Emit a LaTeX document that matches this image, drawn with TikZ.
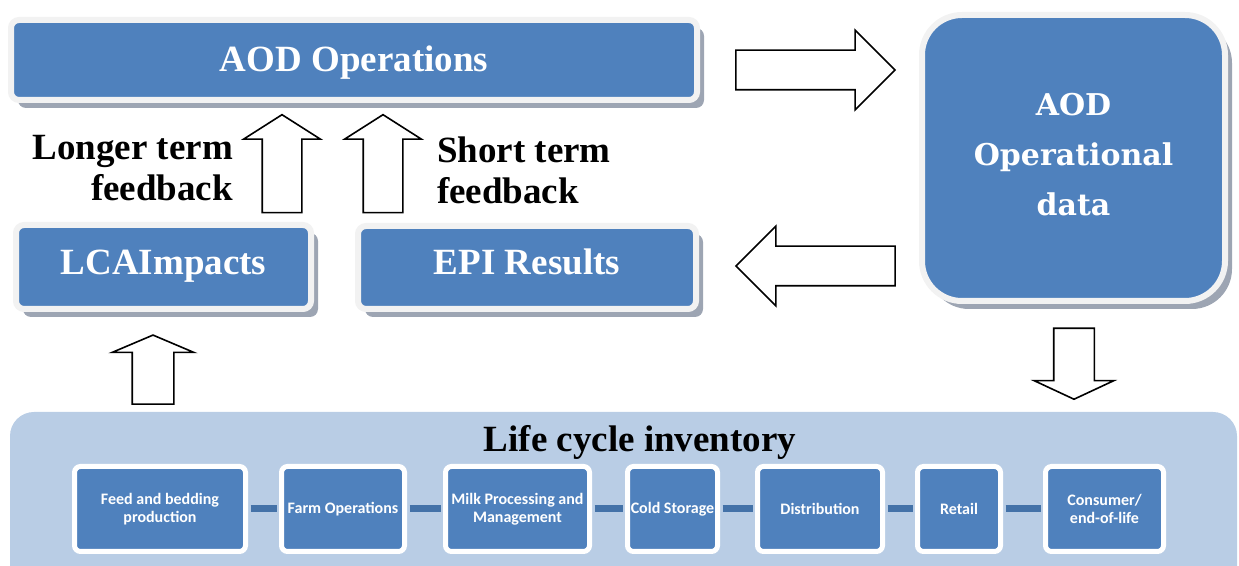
\documentclass[tikz,border=0pt]{standalone}
\usepackage{fontspec}
\setmainfont{Liberation Serif}
\newfontfamily\datafont{DejaVu Serif}
\newfontfamily\stagefont{Carlito}
\usepackage{tikz}
\usetikzlibrary{shapes.arrows,shadows,positioning}
\definecolor{boxblue}{HTML}{4F81BD}
\definecolor{framegray}{HTML}{F2F2F2}
\definecolor{panelblue}{HTML}{B9CDE5}
\definecolor{linkblue}{HTML}{4472A8}
\definecolor{shadowgray}{HTML}{9DA5B3}

\begin{document}
\begin{tikzpicture}[x=0.5pt, y=-0.5pt,
  bigbox/.style={draw=framegray, line width=3pt, fill=boxblue, rounded corners=4pt,
    text=white, font=\fontsize{18.5}{22}\selectfont\bfseries, align=center,
    text height=12.5pt, text depth=0.5pt,
    drop shadow={shadow xshift=3.5pt, shadow yshift=-4pt, fill=shadowgray, opacity=1}},
  stage/.style={draw=white, line width=2.5pt, fill=boxblue, rounded corners=3pt,
    text=white, font=\stagefont\fontsize{8}{9}\selectfont\bfseries,
    minimum height=42.5pt, inner sep=1pt, align=center},
  blockarr/.style={single arrow, draw, fill=white, thick, inner sep=9.5pt,
    single arrow head extend=10pt},
  link/.style={linkblue, line width=3.5pt, shorten <=1.25pt, shorten >=1.25pt},
  lbl/.style={font=\fontsize{18.5}{20.5}\selectfont\bfseries}
]
\useasboundingbox (0,0) rectangle (1239,566);
\clip (0,0) rectangle (1239,566);

% Top boxes
\node[bigbox, minimum width=343pt, minimum height=40pt] (ops) at (354,60) {AOD Operations};
\node[bigbox, minimum width=151.5pt, minimum height=143pt, rounded corners=20pt,
      text height=, text depth=,
      font=\datafont\fontsize{15}{25}\selectfont\bfseries] (data) at (1073.5,158)
      {AOD\\Operational\\data\\[-21pt]};
\node[bigbox, minimum width=147.5pt, minimum height=42pt, text depth=5pt] (lca) at (163.5,267) {LCAImpacts};
\node[bigbox, minimum width=169pt, minimum height=41.5pt, text depth=5.5pt] (epi) at (527,267.5) {EPI Results};

% Block arrows
\node[blockarr, minimum height=79.5pt] (toData) at (805.5,70) {};
\node[blockarr, minimum height=79.5pt, rotate=180] (toEpi) at (825.5,266) {};
\node[blockarr, minimum height=35.5pt, rotate=-90, inner sep=9.75pt,
      single arrow head extend=9.75pt, single arrow tip angle=130] (toInv) at (1074,359) {};
\node[blockarr, minimum height=49pt, rotate=90, single arrow head extend=9.25pt,
      single arrow tip angle=115] (longFb) at (282,170) {};
\node[blockarr, minimum height=49pt, rotate=90, single arrow head extend=9.25pt,
      single arrow tip angle=115] (shortFb) at (383,170) {};
\node[blockarr, minimum height=34.5pt, rotate=90, inner sep=10pt,
      single arrow head extend=10pt, single arrow tip angle=134] (toLca) at (153,374) {};

% Feedback labels
\node[lbl, align=right, anchor=east] (longLbl) at (240,168) {Longer term\\feedback};
\node[lbl, align=left, anchor=west] (shortLbl) at (430,170) {Short term\\feedback};

% Inventory panel
\node[fill=panelblue, rounded corners=12pt, minimum width=613.5pt, minimum height=89pt,
      inner sep=0pt] (lci) at (623.5,501) {};
\node[font=\fontsize{18.5}{22}\selectfont\bfseries] (lciTitle) at (640,442) {Life cycle inventory};

\node[stage, minimum width=85.5pt] (feed) at (160,509) {Feed and bedding\\production};
\node[stage, minimum width=61.5pt] (farm) at (343,509) {Farm Operations};
\node[stage, minimum width=72pt] (milk) at (517.5,509) {Milk Processing and\\Management};
\node[stage, minimum width=45pt] (cold) at (672.5,509) {Cold Storage};
\node[stage, minimum width=62.5pt] (dist) at (820,509) {Distribution};
\node[stage, minimum width=41.5pt] (retail) at (959,509) {Retail};
\node[stage, minimum width=59pt] (cons) at (1104.5,509) {Consumer/\\end-of-life};

\foreach \a/\b in {feed/farm, farm/milk, milk/cold, cold/dist, dist/retail, retail/cons}
  \draw[link] (\a) -- (\b);
\end{tikzpicture}
\end{document}
